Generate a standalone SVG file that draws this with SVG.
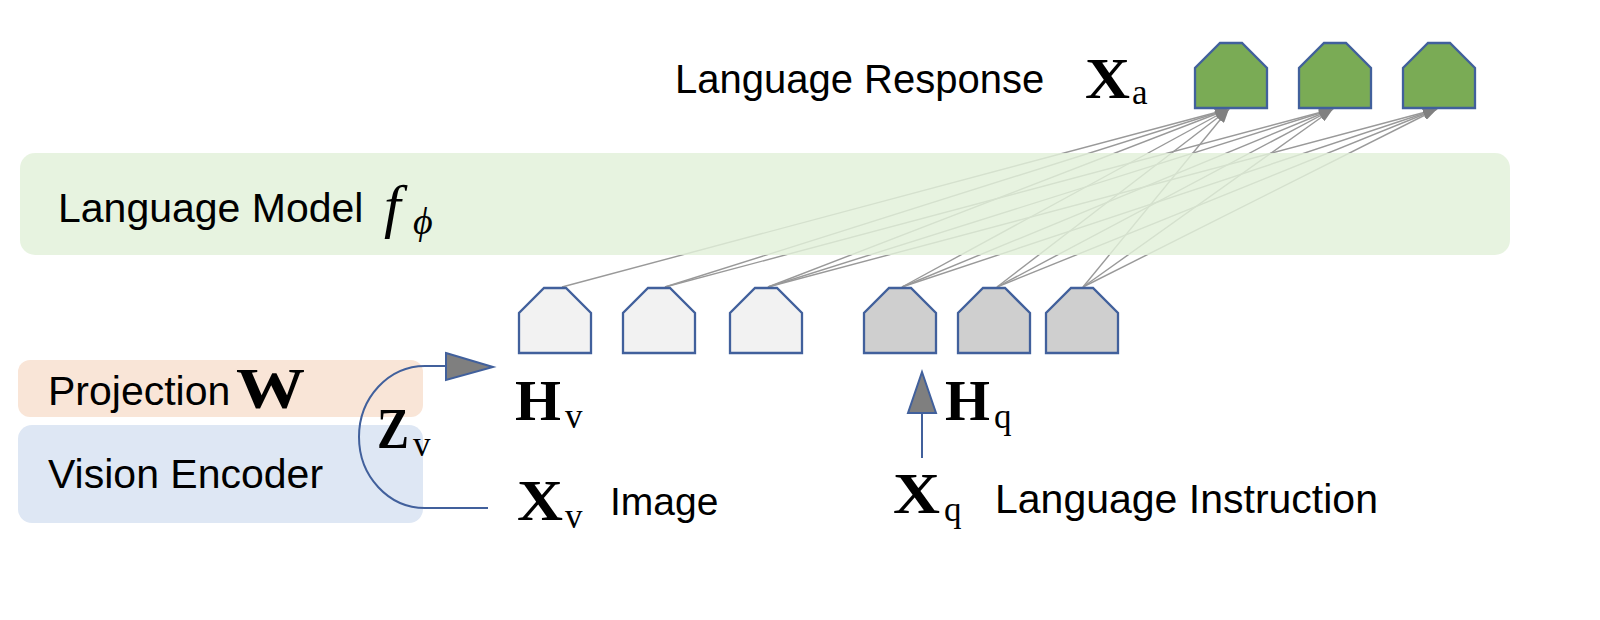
<svg xmlns="http://www.w3.org/2000/svg" xmlns:xlink="http://www.w3.org/1999/xlink" width="1600" height="620" viewBox="0 0 1600 620">
<style>
.sans{font-family:"Liberation Sans",Arial,sans-serif;font-size:41px;fill:#000}
.bm{font-family:"Liberation Serif","Times New Roman",serif;font-weight:bold;font-size:57px;fill:#000}
.tt{font-family:"Liberation Serif","Times New Roman",serif;font-size:35px;fill:#000}
.it{font-family:"Liberation Serif","DejaVu Serif",serif;font-style:italic;fill:#000}
.tok{stroke:#41609c;stroke-width:2.3;stroke-linejoin:miter}
.light{fill:#f2f2f2}
.gray{fill:#cfcfcf}
.green{fill:#7aab55}
.conn{stroke:#999;stroke-width:1.4;fill:none;marker-end:url(#ah)}
.blue{stroke:#41609c;stroke-width:2;fill:none}
</style>
<defs>
<polygon id="shape" points="-11,0 11,0 36,25 36,65 -36,65 -36,25"/>
<marker id="ah" markerUnits="userSpaceOnUse" markerWidth="14" markerHeight="10" refX="14" refY="5" orient="auto">
<path d="M0,0 L14,5 L0,10 z" fill="#808080"/>
</marker>
</defs>
<rect width="1600" height="620" fill="#fff"/>

<g id="projection">
<rect x="18" y="360" width="405" height="57" rx="12" fill="#f9e5d7"/>
<text class="sans" x="48" y="405">Projection</text>
<text class="bm" x="236" y="408" textLength="69" lengthAdjust="spacingAndGlyphs">W</text>
</g>

<g id="vision-encoder">
<rect x="18" y="425" width="405" height="98" rx="14" fill="#dee7f4"/>
<text class="sans" x="48" y="488">Vision Encoder</text>
</g>

<g id="connectors">
<line class="conn" x1="562" y1="287" x2="1229" y2="109"/>
<line class="conn" x1="665" y1="287" x2="1229" y2="109"/>
<line class="conn" x1="665" y1="287" x2="1333" y2="109"/>
<line class="conn" x1="768" y1="287" x2="1229" y2="109"/>
<line class="conn" x1="768" y1="287" x2="1333" y2="109"/>
<line class="conn" x1="768" y1="287" x2="1437" y2="109"/>
<line class="conn" x1="902" y1="287" x2="1229" y2="109"/>
<line class="conn" x1="902" y1="287" x2="1333" y2="109"/>
<line class="conn" x1="902" y1="287" x2="1437" y2="109"/>
<line class="conn" x1="997" y1="287" x2="1229" y2="109"/>
<line class="conn" x1="997" y1="287" x2="1333" y2="109"/>
<line class="conn" x1="997" y1="287" x2="1437" y2="109"/>
<line class="conn" x1="1083" y1="287" x2="1229" y2="109"/>
<line class="conn" x1="1083" y1="287" x2="1333" y2="109"/>
<line class="conn" x1="1083" y1="287" x2="1437" y2="109"/>
<path class="blue" d="M488,508 L425,508 A66,71 0 0 1 425,366 L446,366"/>
<polygon points="446,353 493,367 446,380" fill="#7f7f7f" stroke="#41609c" stroke-width="2" stroke-linejoin="miter"/>
<line class="blue" x1="922" y1="458" x2="922" y2="412"/>
<polygon points="922,372 908,413 936,413" fill="#7f7f7f" stroke="#41609c" stroke-width="2" stroke-linejoin="miter"/>
</g>

<g id="language-model">
<rect x="20" y="153" width="1490" height="102" rx="15" fill="#e2f0d9" fill-opacity="0.82"/>
<text class="sans" x="58" y="222">Language Model</text>
<text class="it" x="384" y="226" style="font-size:60px">f</text>
<text class="it" x="413" y="234" style="font-size:38px">ϕ</text>
</g>

<g id="z-label">
<text class="bm" x="377" y="448" textLength="32" lengthAdjust="spacingAndGlyphs">Z</text>
<text class="tt" x="413" y="456">v</text>
</g>

<g id="hv-tokens">
<use xlink:href="#shape" href="#shape" class="tok light" x="555" y="288"/>
<use xlink:href="#shape" href="#shape" class="tok light" x="659" y="288"/>
<use xlink:href="#shape" href="#shape" class="tok light" x="766" y="288"/>
<text class="bm" x="515" y="420" textLength="46" lengthAdjust="spacingAndGlyphs">H</text>
<text class="tt" x="565" y="428">v</text>
</g>

<g id="hq-tokens">
<use xlink:href="#shape" href="#shape" class="tok gray" x="900" y="288"/>
<use xlink:href="#shape" href="#shape" class="tok gray" x="994" y="288"/>
<use xlink:href="#shape" href="#shape" class="tok gray" x="1082" y="288"/>
<text class="bm" x="945" y="420" textLength="45" lengthAdjust="spacingAndGlyphs">H</text>
<text class="tt" x="994" y="428">q</text>
</g>

<g id="image-input">
<text class="bm" x="517" y="520" textLength="46" lengthAdjust="spacingAndGlyphs">X</text>
<text class="tt" x="565" y="528">v</text>
<text class="sans" x="610" y="515" style="font-size:39px">Image</text>
</g>

<g id="instruction-input">
<text class="bm" x="893" y="513" textLength="47" lengthAdjust="spacingAndGlyphs">X</text>
<text class="tt" x="944" y="521">q</text>
<text class="sans" x="995" y="513">Language Instruction</text>
</g>

<g id="response">
<use xlink:href="#shape" href="#shape" class="tok green" x="1231" y="43"/>
<use xlink:href="#shape" href="#shape" class="tok green" x="1335" y="43"/>
<use xlink:href="#shape" href="#shape" class="tok green" x="1439" y="43"/>
<text class="sans" x="675" y="93" style="font-size:40px">Language Response</text>
<text class="bm" x="1085" y="98" textLength="45" lengthAdjust="spacingAndGlyphs">X</text>
<text class="tt" x="1132" y="104">a</text>
</g>
</svg>
